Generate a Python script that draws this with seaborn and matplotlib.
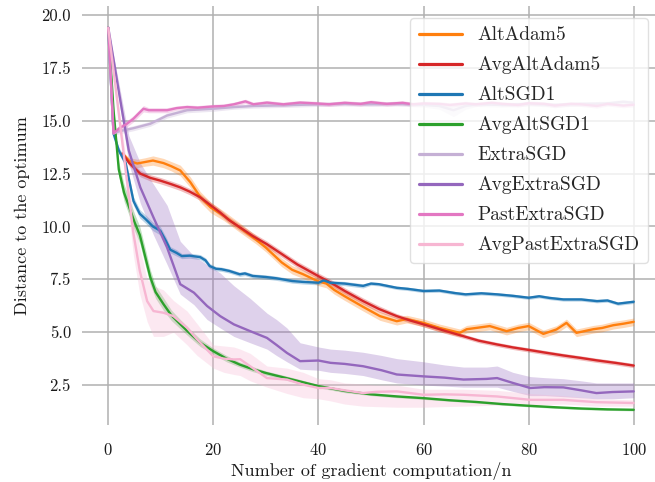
import numpy as np
import pandas as pd
import matplotlib
matplotlib.use("Agg")
import matplotlib.pyplot as plt
import seaborn as sns

# ---------------- data ----------------
methods = ["AltAdam5", "AvgAltAdam5", "AltSGD1", "AvgAltSGD1",
           "ExtraSGD", "AvgExtraSGD", "PastExtraSGD", "AvgPastExtraSGD"]
colors = ["#ff7f0e", "#d62728", "#1f77b4", "#2ca02c",
          "#c5b0d5", "#9467bd", "#e377c2", "#f7b6d2"]

altadam_x = [2.7, 4, 5.5, 7, 8.5, 10.5, 12, 13.7, 15.6, 17.5, 19.5, 22, 25, 28, 30, 33, 35, 37, 40,
             41.5, 43, 45, 48.5, 51.7, 54.9, 56.8, 60, 63.1, 66.9, 68.2, 70, 72.6, 75.8, 78, 80,
             82.8, 85.3, 87.2, 89.1, 92.3, 94, 96.1, 98, 100]
altadam_y = [13.45, 13.1, 12.98, 13.05, 13.12, 13.0, 12.85, 12.65, 12.1, 11.4, 10.9, 10.5, 9.95, 9.4,
             9.0, 8.3, 7.95, 7.75, 7.4, 7.3, 7.0, 6.7, 6.2, 5.76, 5.52, 5.62, 5.44, 5.2, 4.97, 5.14,
             5.2, 5.29, 5.05, 5.2, 5.29, 4.92, 5.13, 5.44, 4.97, 5.14, 5.2, 5.33, 5.4, 5.49]
altadam_w = [0.1, 0.15, 0.2, 0.2, 0.22, 0.22, 0.22, 0.25, 0.25, 0.25, 0.25, 0.22, 0.22, 0.2, 0.2, 0.2,
             0.2, 0.2, 0.2, 0.2, 0.2, 0.2, 0.2, 0.2, 0.18, 0.18, 0.18, 0.18, 0.18, 0.18, 0.18, 0.18,
             0.18, 0.18, 0.18, 0.18, 0.18, 0.18, 0.18, 0.18, 0.18, 0.18, 0.18, 0.18]

avgaltadam_x = [2.7, 4, 6.1, 8, 9.9, 12, 13.7, 15.5, 17.5, 19.5, 21.3, 23, 25.1, 27.5, 30.2, 33, 36,
                40, 42.3, 45, 48.5, 51.5, 54.9, 57.5, 60, 64, 67.6, 70.5, 74, 77, 80.3, 83.5, 86.6,
                90, 92.9, 96.5, 100]
avgaltadam_y = [13.45, 13.0, 12.5, 12.3, 12.17, 12.0, 11.85, 11.65, 11.38, 11.0, 10.66, 10.3, 9.95,
                9.55, 9.16, 8.7, 8.2, 7.65, 7.35, 6.95, 6.47, 6.1, 5.76, 5.55, 5.37, 5.07, 4.81, 4.6,
                4.42, 4.28, 4.15, 4.02, 3.9, 3.78, 3.67, 3.55, 3.42]
avgaltadam_w = [0.1, 0.15, 0.15, 0.15, 0.15, 0.15, 0.15, 0.15, 0.15, 0.15, 0.15, 0.15, 0.15, 0.15,
                0.15, 0.15, 0.15, 0.15, 0.15, 0.15, 0.15, 0.15, 0.12, 0.12, 0.12, 0.12, 0.1, 0.1,
                0.1, 0.1, 0.1, 0.1, 0.1, 0.1, 0.1, 0.1, 0.1]

altsgd_x = [0, 1, 2, 3.3, 4.8, 6, 7.1, 8.5, 9.9, 11, 11.8, 13, 14, 15.5, 17.5, 18.5, 19.3, 20.5, 21.5,
            23, 25, 26, 27.5, 30, 32, 35, 37, 40, 41, 42.3, 45, 48.5, 50, 51.5, 54.9, 57, 60, 63, 66,
            68, 71, 74, 77, 80, 82, 84, 86.6, 90, 93, 95, 97, 100]
altsgd_y = [19.4, 14.4, 13.6, 13.0, 11.2, 10.6, 10.35, 10.0, 9.8, 9.3, 8.9, 8.75, 8.6, 8.62, 8.55,
            8.4, 8.13, 8.0, 7.98, 7.9, 7.74, 7.78, 7.66, 7.61, 7.55, 7.42, 7.38, 7.34, 7.45, 7.34,
            7.3, 7.19, 7.3, 7.27, 7.1, 7.05, 6.95, 6.97, 6.85, 6.79, 6.84, 6.79, 6.72, 6.63, 6.7,
            6.62, 6.55, 6.55, 6.47, 6.5, 6.35, 6.44]
altsgd_w = [0.05, 0.1, 0.15, 0.2, 0.2, 0.2, 0.2, 0.2, 0.2, 0.2, 0.15, 0.15, 0.12, 0.12, 0.12, 0.12,
            0.12, 0.1, 0.1, 0.1, 0.1, 0.1, 0.1, 0.1, 0.1, 0.1, 0.1, 0.1, 0.1, 0.1, 0.1, 0.1, 0.08,
            0.08, 0.08, 0.08, 0.08, 0.08, 0.08, 0.08, 0.08, 0.08, 0.08, 0.08, 0.08, 0.08, 0.08,
            0.08, 0.08, 0.08, 0.08, 0.08]

avgaltsgd_x = [0, 1, 2, 3, 4, 5, 6, 7, 8, 9, 10.5, 12, 13.7, 15.5, 17.5, 20, 22.5, 25, 27.5, 30, 35,
               40, 45, 50, 55, 60, 65, 70, 75, 80, 85, 90, 95, 100]
avgaltsgd_y = [19.4, 15.5, 12.7, 11.6, 10.9, 10.2, 9.6, 8.6, 7.6, 6.9, 6.33, 5.8, 5.38, 4.95, 4.5,
               4.1, 3.75, 3.47, 3.25, 3.07, 2.76, 2.45, 2.22, 2.06, 1.96, 1.88, 1.78, 1.7, 1.6,
               1.52, 1.45, 1.39, 1.35, 1.33]
avgaltsgd_w = [0.05, 0.2, 0.35, 0.4, 0.4, 0.4, 0.4, 0.4, 0.35, 0.3, 0.3, 0.25, 0.22, 0.2, 0.18,
               0.15, 0.15, 0.12, 0.12, 0.1, 0.1, 0.08, 0.08, 0.06, 0.06, 0.06, 0.05, 0.05, 0.05,
               0.05, 0.05, 0.05, 0.05, 0.05]

extra_x = [0, 1, 2, 4.8, 8, 11.2, 15, 20, 24, 27.6, 33, 40, 45, 50, 55, 60, 63, 65.7, 68, 70, 75,
           80, 85, 90, 95, 98, 100]
extra_y = [19.4, 14.4, 14.5, 14.65, 14.86, 15.25, 15.5, 15.57, 15.65, 15.7, 15.73, 15.78, 15.8,
           15.78, 15.8, 15.75, 15.7, 15.5, 15.7, 15.78, 15.75, 15.8, 15.75, 15.8, 15.82, 15.9, 15.85]
extra_w = [0.05, 0.1, 0.12, 0.12, 0.12, 0.12, 0.12, 0.12, 0.1, 0.1, 0.1, 0.1, 0.1, 0.1, 0.1, 0.1,
           0.15, 0.3, 0.15, 0.1, 0.1, 0.1, 0.1, 0.1, 0.1, 0.1, 0.1]

avgextra_x = [0, 2, 3.9, 6.1, 8.6, 11.2, 13.7, 16.3, 18.8, 21.3, 23.9, 27, 30.2, 32, 34, 36.5, 40,
              42.3, 45, 48.5, 52, 54.9, 60, 64, 67.6, 72, 74, 77, 80.3, 83, 86.6, 90, 92.9, 96, 100]
avgextra_y = [19.4, 16.4, 13.6, 11.85, 10.43, 9.0, 7.27, 6.87, 6.24, 5.76, 5.37, 5.05, 4.73, 4.4,
              4.02, 3.63, 3.66, 3.55, 3.5, 3.39, 3.2, 3.0, 2.91, 2.85, 2.76, 2.79, 2.83, 2.6, 2.36,
              2.4, 2.39, 2.25, 2.12, 2.17, 2.2]
avgextra_lo = [19.4, 16.0, 13.0, 11.1, 9.6, 8.2, 6.8, 6.3, 5.6, 5.2, 4.8, 4.5, 4.2, 3.9, 3.6, 3.25,
               3.2, 3.1, 3.05, 2.95, 2.75, 2.6, 2.5, 2.45, 2.4, 2.4, 2.4, 2.2, 2.0, 2.0, 1.95, 1.9,
               1.85, 1.85, 1.9]
avgextra_hi = [19.4, 16.8, 14.3, 13.0, 12.0, 11.0, 9.3, 8.6, 8.2, 7.8, 7.2, 6.6, 5.9, 5.6, 5.2, 4.5,
               4.3, 4.2, 4.15, 4.05, 3.9, 3.75, 3.6, 3.45, 3.35, 3.35, 3.4, 3.1, 2.9, 2.85, 2.8, 2.7,
               2.6, 2.6, 2.6]

past_x = [0, 1, 2, 3.5, 4.8, 6, 6.7, 7.7, 9.3, 11.2, 13, 15, 17, 20, 22, 23.9, 26.1, 27.6, 30.2,
          33.3, 36.5, 39.7, 42, 45, 48, 50, 53, 56, 58, 60, 63, 65, 68, 70, 73, 75, 78, 80, 83, 85,
          88, 90, 93, 95, 98, 100]
past_y = [19.4, 14.4, 14.63, 14.85, 15.1, 15.4, 15.57, 15.5, 15.5, 15.5, 15.6, 15.65, 15.62, 15.68,
          15.7, 15.78, 15.92, 15.78, 15.86, 15.78, 15.86, 15.82, 15.78, 15.85, 15.8, 15.88, 15.8,
          15.85, 15.78, 15.82, 15.8, 15.75, 15.82, 15.78, 15.85, 15.8, 15.75, 15.83, 15.8, 15.72,
          15.8, 15.78, 15.7, 15.8, 15.72, 15.76]
past_w = [0.05, 0.1, 0.15, 0.15, 0.15, 0.15, 0.15, 0.12, 0.12, 0.12, 0.1, 0.1, 0.1, 0.1, 0.1, 0.1,
          0.1, 0.1, 0.1, 0.1, 0.1, 0.1, 0.1, 0.1, 0.1, 0.1, 0.1, 0.1, 0.1, 0.1, 0.1, 0.1, 0.1, 0.1,
          0.1, 0.1, 0.1, 0.1, 0.1, 0.1, 0.1, 0.1, 0.1, 0.1, 0.1, 0.1]

avgpast_x = [0, 4.8, 6, 7.4, 8.6, 10.5, 12.4, 15, 16.9, 20, 22, 23.9, 25.1, 27, 30.2, 34, 37.1, 40,
             42.3, 45, 48.5, 51, 54.9, 60, 64, 67.6, 74, 80.3, 86.6, 92.9, 100]
avgpast_y = [19.4, 9.65, 7.9, 6.47, 6.0, 5.92, 5.76, 5.21, 4.66, 3.86, 3.75, 3.71, 3.72, 3.39, 2.83,
             2.76, 2.52, 2.36, 2.36, 2.25, 2.12, 2.18, 2.2, 2.04, 2.06, 2.04, 1.96, 1.8, 1.8, 1.69,
             1.65]
avgpast_lo = [19.4, 8.6, 6.8, 5.5, 4.8, 4.8, 5.0, 4.4, 3.9, 3.3, 3.1, 3.0, 2.95, 2.7, 2.4, 2.1, 1.9,
              1.85, 1.75, 1.6, 1.5, 1.48, 1.45, 1.45, 1.48, 1.5, 1.55, 1.55, 1.6, 1.5, 1.5]
avgpast_hi = [19.4, 10.6, 9.0, 7.5, 7.2, 7.0, 6.5, 6.0, 5.4, 4.4, 4.35, 4.3, 4.2, 4.0, 3.4, 3.3, 3.1,
              2.8, 2.75, 2.6, 2.55, 2.5, 2.5, 2.3, 2.3, 2.3, 2.25, 2.1, 2.0, 1.85, 1.8]

xticks = [0, 20, 40, 60, 80, 100]
yticks = [2.5, 5.0, 7.5, 10.0, 12.5, 15.0, 17.5, 20.0]

# ---------------- assemble long-form table ----------------
def sym(xs, ys, ws):
    return xs, ys, [y - w for y, w in zip(ys, ws)], [y + w for y, w in zip(ys, ws)]

series = {
    "AltAdam5": sym(altadam_x, altadam_y, altadam_w),
    "AvgAltAdam5": sym(avgaltadam_x, avgaltadam_y, avgaltadam_w),
    "AltSGD1": sym(altsgd_x, altsgd_y, altsgd_w),
    "AvgAltSGD1": sym(avgaltsgd_x, avgaltsgd_y, avgaltsgd_w),
    "ExtraSGD": sym(extra_x, extra_y, extra_w),
    "AvgExtraSGD": (avgextra_x, avgextra_y, avgextra_lo, avgextra_hi),
    "PastExtraSGD": sym(past_x, past_y, past_w),
    "AvgPastExtraSGD": (avgpast_x, avgpast_y, avgpast_lo, avgpast_hi),
}

rows = []
for name in methods:
    xs, ys, lo, hi = series[name]
    for x, y, l, h in zip(xs, ys, lo, hi):
        rows += [(name, x, l), (name, x, y), (name, x, h)]
df = pd.DataFrame(rows, columns=["method", "x", "dist"])

# ---------------- style ----------------
sns.set_style("whitegrid")
plt.rcParams["font.family"] = ["serif"]
plt.rcParams["font.serif"] = ["cmr10", "DejaVu Serif"]
plt.rcParams["mathtext.fontset"] = "cm"
plt.rcParams["axes.formatter.use_mathtext"] = True
plt.rcParams["axes.unicode_minus"] = False

fig = plt.figure(figsize=(6.55, 4.82), dpi=100)
ax = fig.add_axes([82 / 655, 1 - 425 / 482, (660 - 82) / 655, (425 - 6) / 482])

sns.lineplot(data=df, x="x", y="dist", hue="method", hue_order=methods, palette=colors,
             estimator="median", errorbar=("pi", 100), linewidth=1.7,
             err_kws={"alpha": 0.3, "linewidth": 0}, ax=ax)

ax.set_xlim(-5, 105)
ax.set_ylim(0.61, 20.43)
ax.set_xticks(xticks)
ax.set_yticks(yticks)
ax.set_yticklabels([f"{v:.1f}" for v in yticks])
ax.grid(True, color="#b0b0b0", linewidth=1.1)
ax.spines["bottom"].set_position(("outward", 3))
for s in ax.spines.values():
    s.set_visible(False)
ax.tick_params(axis="both", which="major", length=4, width=1.2, color="0.1",
               labelsize=12, labelcolor="0.1")
ax.tick_params(axis="x", pad=5)
ax.tick_params(axis="y", pad=4)
ax.set_xlabel("Number of gradient computation/n", fontsize=13, color="0.1", labelpad=3)
ax.set_ylabel("Distance to the optimum", fontsize=13, color="0.1", labelpad=8)

leg = ax.legend(loc="upper right", fontsize=14, frameon=True, framealpha=0.8,
                edgecolor="0.85", fancybox=True, handlelength=2.2, borderaxespad=0.6,
                labelspacing=0.62, borderpad=0.45)
for line in leg.get_lines():
    line.set_linewidth(2.3)

fig.savefig("out.png", dpi=100)
